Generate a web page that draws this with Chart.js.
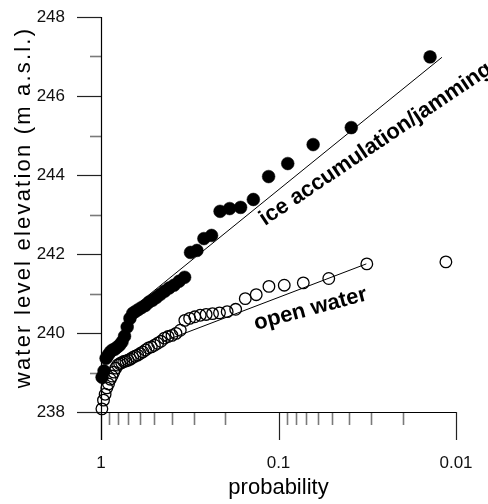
<!DOCTYPE html>
<html>
<head>
<meta charset="utf-8">
<script src="https://cdn.jsdelivr.net/npm/chart.js@4.4.1/dist/chart.umd.min.js"></script>
<style>
  html, body { margin: 0; padding: 0; background: #fff; }
  #c { display: block; }
</style>
</head>
<body>
<canvas id="c" width="488" height="504"></canvas>
<script>
// ---- data ----
const iceProb = [0.0140, 0.0389, 0.0638, 0.0887, 0.1137, 0.1386, 0.1635, 0.1884, 0.2134, 0.2383,
  0.2632, 0.2881, 0.3131, 0.3380, 0.3629, 0.3878, 0.4128, 0.4377, 0.4626, 0.4875,
  0.5125, 0.5374, 0.5623, 0.5872, 0.6122, 0.6371, 0.6620, 0.6869, 0.7119, 0.7368,
  0.7617, 0.7866, 0.8116, 0.8365, 0.8614, 0.8863, 0.9113, 0.9362, 0.9611, 0.9860];
const iceLevel = [246.99, 245.20, 244.77, 244.29, 243.96, 243.38, 243.18, 243.15, 243.08, 242.47,
  242.39, 242.09, 242.04, 241.41, 241.31, 241.21, 241.14, 241.06, 240.98, 240.90,
  240.83, 240.78, 240.70, 240.65, 240.60, 240.55, 240.50, 240.37, 240.15, 239.92,
  239.77, 239.69, 239.64, 239.59, 239.57, 239.52, 239.44, 239.36, 239.04, 238.88];

const openProb = [0.0114, 0.0318, 0.0521, 0.0725, 0.0928, 0.1132, 0.1335, 0.1539, 0.1743, 0.1946,
  0.2150, 0.2353, 0.2557, 0.2760, 0.2964, 0.3168, 0.3371, 0.3575, 0.3778, 0.3982,
  0.4186, 0.4389, 0.4593, 0.4796, 0.5000, 0.5204, 0.5407, 0.5611, 0.5814, 0.6018,
  0.6221, 0.6425, 0.6629, 0.6832, 0.7036, 0.7239, 0.7443, 0.7647, 0.7850, 0.8054,
  0.8257, 0.8461, 0.8664, 0.8868, 0.9072, 0.9275, 0.9479, 0.9682, 0.9886];
const openLevel = [241.80, 241.75, 241.38, 241.27, 241.21, 241.18, 240.97, 240.87, 240.60, 240.54,
  240.51, 240.49, 240.47, 240.45, 240.41, 240.37, 240.32, 240.07, 239.99, 239.94,
  239.91, 239.87, 239.79, 239.74, 239.69, 239.65, 239.62, 239.57, 239.52, 239.48,
  239.44, 239.41, 239.38, 239.34, 239.31, 239.29, 239.28, 239.25, 239.22, 239.19,
  239.11, 239.01, 238.91, 238.83, 238.71, 238.61, 238.45, 238.30, 238.08];

const iceFitProb = [0.6, 0.012];
const iceFitLevel = [240.79, 246.98];
const openFitProb = [0.45, 0.032];
const openFitLevel = [239.78, 241.75];

const xMajorTicks = [1, 0.1, 0.01];
const xMinorTicks = [0.9, 0.8, 0.7, 0.6, 0.5, 0.4, 0.3, 0.2, 0.09, 0.08, 0.07, 0.06, 0.05, 0.04, 0.03, 0.02];
const yMajorTicks = [238, 240, 242, 244, 246, 248];
const yMinorTicks = [239, 241, 243, 245, 247];

const xTitle = 'probability';
const yTitle = 'water level elevation (m a.s.l.)';
const iceLabel = 'ice accumulation/jamming';
const openLabel = 'open water';

const FONT = "'Liberation Sans', Arial, Helvetica, sans-serif";

const toXY = (xs, ys) => xs.map((x, i) => ({ x: x, y: ys[i] }));

const axesPlugin = {
  id: 'axesPlugin',
  beforeDatasetsDraw(chart) {
    const ctx = chart.ctx;
    const xs = chart.scales.x, ys = chart.scales.y;
    const x0 = xs.getPixelForValue(1);
    const x1 = xs.getPixelForValue(0.01);
    const yb = ys.getPixelForValue(238);
    const yt = ys.getPixelForValue(248);
    ctx.save();
    ctx.lineCap = 'butt';
    // minor ticks
    ctx.strokeStyle = '#7a7a7a';
    ctx.lineWidth = 1.6;
    yMinorTicks.forEach(v => {
      const y = Math.round(ys.getPixelForValue(v)) + 0.5;
      ctx.beginPath(); ctx.moveTo(x0 - 11, y); ctx.lineTo(x0, y); ctx.stroke();
    });
    xMinorTicks.forEach(v => {
      const x = Math.round(xs.getPixelForValue(v)) + 0.5;
      ctx.beginPath(); ctx.moveTo(x, yb); ctx.lineTo(x, yb + 13); ctx.stroke();
    });
    // major ticks
    ctx.strokeStyle = '#222';
    ctx.lineWidth = 1.2;
    yMajorTicks.forEach(v => {
      const y = Math.round(ys.getPixelForValue(v)) + 0.5;
      ctx.beginPath(); ctx.moveTo(x0 - 24, y); ctx.lineTo(x0, y); ctx.stroke();
    });
    xMajorTicks.forEach(v => {
      const x = Math.round(xs.getPixelForValue(v)) + 0.5;
      ctx.beginPath(); ctx.moveTo(x, yb); ctx.lineTo(x, yb + 28); ctx.stroke();
    });
    // axis lines
    ctx.strokeStyle = '#000';
    ctx.lineWidth = 1.2;
    ctx.beginPath();
    ctx.moveTo(Math.round(x0) + 0.5, yt);
    ctx.lineTo(Math.round(x0) + 0.5, yb + 28);
    ctx.stroke();
    ctx.beginPath();
    ctx.moveTo(x0, Math.round(yb) + 0.5);
    ctx.lineTo(x1, Math.round(yb) + 0.5);
    ctx.stroke();
    ctx.restore();
  },
  afterDraw(chart) {
    const ctx = chart.ctx;
    const ys = chart.scales.y;
    ctx.save();
    ctx.fillStyle = '#000';
    // y-axis title
    ctx.save();
    ctx.font = '22px ' + FONT;
    try { ctx.letterSpacing = '2.2px'; } catch (e) {}
    ctx.textAlign = 'center';
    ctx.textBaseline = 'alphabetic';
    ctx.translate(30, (ys.getPixelForValue(248) + ys.getPixelForValue(238)) / 2 - 7);
    ctx.rotate(-Math.PI / 2);
    ctx.fillText(yTitle, 0, 0);
    ctx.restore();
    // annotation: ice accumulation/jamming
    ctx.save();
    ctx.font = 'bold 22px ' + FONT;
    ctx.textAlign = 'left';
    ctx.textBaseline = 'alphabetic';
    ctx.translate(265, 226);
    ctx.rotate(-34 * Math.PI / 180);
    ctx.fillText(iceLabel, 0, 0);
    ctx.restore();
    // annotation: open water
    ctx.save();
    ctx.font = 'bold 22px ' + FONT;
    ctx.textAlign = 'left';
    ctx.textBaseline = 'alphabetic';
    ctx.translate(256, 330);
    ctx.rotate(-15 * Math.PI / 180);
    ctx.fillText(openLabel, 0, 0);
    ctx.restore();
    ctx.restore();
  }
};

new Chart(document.getElementById('c'), {
  type: 'scatter',
  data: {
    datasets: [
      {
        label: 'ice',
        data: toXY(iceProb, iceLevel),
        pointRadius: 6.4,
        pointBackgroundColor: '#000',
        pointBorderColor: '#000',
        pointBorderWidth: 0.5,
        showLine: false,
        clip: false
      },
      {
        label: 'open',
        data: toXY(openProb, openLevel),
        pointRadius: 5.8,
        pointBackgroundColor: 'rgba(0,0,0,0)',
        pointBorderColor: '#000',
        pointBorderWidth: 1.3,
        showLine: false,
        clip: false
      },
      {
        label: 'iceFit',
        data: toXY(iceFitProb, iceFitLevel),
        showLine: true,
        pointRadius: 0,
        borderColor: '#000',
        borderWidth: 1,
        fill: false
      },
      {
        label: 'openFit',
        data: toXY(openFitProb, openFitLevel),
        showLine: true,
        pointRadius: 0,
        borderColor: '#000',
        borderWidth: 1,
        fill: false
      }
    ]
  },
  options: {
    responsive: false,
    animation: false,
    devicePixelRatio: 1,
    layout: { padding: { left: 0, right: 32, top: 17, bottom: 0 } },
    plugins: { legend: { display: false }, tooltip: { enabled: false } },
    scales: {
      x: {
        type: 'logarithmic',
        position: 'bottom',
        reverse: true,
        min: 0.01,
        max: 1,
        grid: { display: false, drawTicks: false },
        border: { display: false },
        afterFit(scale) {
          scale.height = 92;
          scale.paddingLeft = 0;
          scale.paddingRight = 0;
        },
        ticks: {
          autoSkip: false,
          maxRotation: 0,
          minRotation: 0,
          padding: 41,
          color: '#111',
          font: { family: FONT, size: 17 },
          callback(v) {
            const m = xMajorTicks.find(t => Math.abs(t - v) < t * 1e-6);
            return m !== undefined ? String(m) : '';
          }
        },
        title: {
          display: true,
          text: xTitle,
          color: '#000',
          font: { family: FONT, size: 22 },
          padding: { top: 0, bottom: 3 }
        }
      },
      y: {
        type: 'linear',
        min: 238,
        max: 248,
        grid: { display: false, drawTicks: false },
        border: { display: false },
        afterFit(scale) {
          scale.width = 101;
          scale.paddingTop = 0;
          scale.paddingBottom = 0;
        },
        afterBuildTicks(scale) { scale.ticks = yMajorTicks.map(v => ({ value: v })); },
        ticks: {
          padding: 36,
          color: '#111',
          font: { family: FONT, size: 17 }
        }
      }
    }
  },
  plugins: [axesPlugin]
});
</script>
</body>
</html>
